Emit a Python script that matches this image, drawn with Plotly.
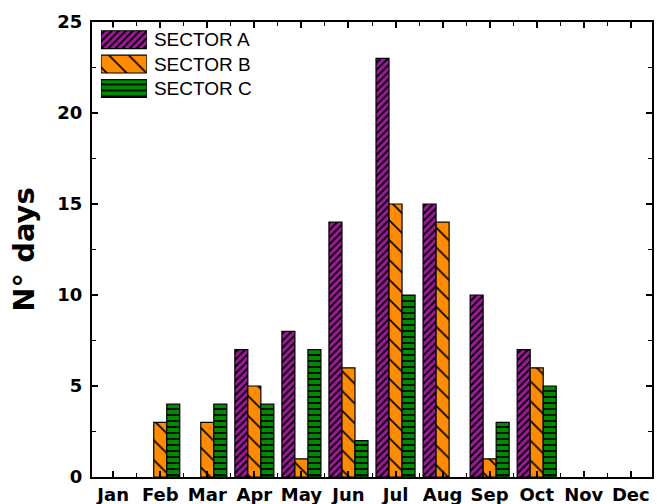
import plotly.graph_objects as go

months = ["Jan", "Feb", "Mar", "Apr", "May", "Jun", "Jul", "Aug", "Sep", "Oct", "Nov", "Dec"]
sector_a = [0, 0, 0, 7, 8, 14, 23, 15, 10, 7, 0, 0]
sector_b = [0, 3, 3, 5, 1, 6, 15, 14, 1, 6, 0, 0]
sector_c = [0, 4, 4, 4, 7, 2, 10, 0, 3, 5, 0, 0]
y_ticks = [0, 5, 10, 15, 20, 25]

x = list(range(1, 13))
x_minor = [m - 0.5 for m in x] + [x[-1] + 0.5]

# name, values, fill colour, hatch shape, hatch spacing, hatch solidity
series = [
    ("SECTOR A", sector_a, "#A0189B", "/", 5, 0.38),
    ("SECTOR B", sector_b, "#FF8C00", "\\", 14, 0.12),
    ("SECTOR C", sector_c, "#008A00", "-", 6, 0.3),
]
names = [s[0] for s in series]


def hatch(color, shape, size, sol):
    return dict(
        color=color,
        line=dict(color="black", width=1.2),
        pattern=dict(shape=shape, fgcolor="black", bgcolor=color,
                     size=size, solidity=sol, fillmode="replace"),
    )


fig = go.Figure()
for name, vals, color, shape, size, sol in series:
    # empty months get no bar at all
    fig.add_trace(go.Bar(
        x=x, y=[v if v else None for v in vals], name=name,
        marker=hatch(color, shape, size, sol), showlegend=False,
    ))

# legend key: one wide hatched swatch per sector on a small inset axis
for name, vals, color, shape, size, sol in series:
    fig.add_trace(go.Bar(
        x=[1], y=[name], orientation="h", xaxis="x3", yaxis="y3",
        width=0.73, offset=-0.365, cliponaxis=False,
        marker=hatch(color, shape, size, sol), showlegend=False,
        hoverinfo="skip",
    ))

tick_font = dict(family="DejaVu Sans", size=18, color="black")

fig.update_layout(
    width=657, height=504,
    margin=dict(l=92, r=5, t=22, b=27),
    plot_bgcolor="white", paper_bgcolor="white",
    barmode="group", bargap=0.17, bargroupgap=0,
    font=dict(family="Liberation Sans, Arial", color="black"),
    xaxis=dict(
        range=[0.55, 12.45], tickmode="array", tickvals=x,
        ticktext=[f"<b>{m}</b>" for m in months],
        ticks="inside", ticklen=6, tickwidth=2, tickcolor="black",
        minor=dict(ticks="inside", ticklen=4, tickwidth=1, tickcolor="black",
                   tickvals=x_minor),
        showline=True, linewidth=2, linecolor="black", mirror="allticks",
        showgrid=False, zeroline=False, tickfont=tick_font,
        ticklabelstandoff=0, automargin=False,
    ),
    yaxis=dict(
        range=[0, 25], tickmode="array", tickvals=y_ticks,
        ticktext=["<b>%d</b>" % v for v in y_ticks],
        ticks="inside", ticklen=6, tickwidth=2, tickcolor="black",
        minor=dict(ticks="inside", ticklen=4, tickwidth=1, dtick=2.5, tickcolor="black"),
        showline=True, linewidth=2, linecolor="black", mirror="allticks",
        showgrid=False, zeroline=False, tickfont=tick_font,
        ticklabelstandoff=4, automargin=False,
        title=dict(text="<b>N° days</b>",
                   font=dict(family="DejaVu Sans", size=29), standoff=14),
    ),
    xaxis3=dict(domain=[0.016, 0.098], anchor="y3", range=[0, 1], visible=False),
    yaxis3=dict(
        domain=[0.827, 0.988], anchor="x3", type="category",
        categoryorder="array", categoryarray=names[::-1],
        tickmode="array", tickvals=names, ticktext=names,
        side="right", showline=False, ticks="", showgrid=False, zeroline=False,
        tickfont=dict(family="Liberation Sans, Arial", size=19, color="black"),
        ticklabelstandoff=6, automargin=False,
    ),
)

fig.write_html("out.html")
